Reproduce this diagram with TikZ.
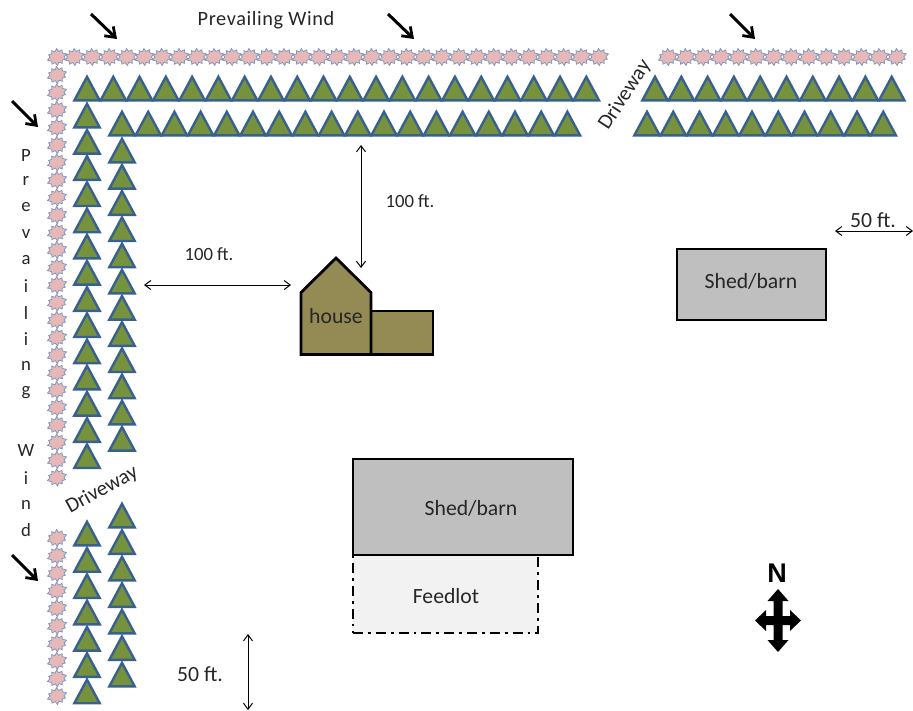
\documentclass[tikz,border=0pt]{standalone}
\usepackage{fontspec}
\setmainfont{Carlito}
\newfontfamily\northfont{Liberation Sans}
\usetikzlibrary{arrows.meta}
\definecolor{treefill}{HTML}{76923C}
\definecolor{treeline}{HTML}{386190}
\definecolor{burstfill}{HTML}{E6B8B7}
\definecolor{burstline}{HTML}{7A94BE}
\definecolor{housefill}{HTML}{948A54}
\definecolor{shedfill}{HTML}{BFBFBF}
\definecolor{lotfill}{HTML}{F2F2F2}
\definecolor{txt}{HTML}{262626}
\tikzset{
  x=1pt,y=-1pt,
  lab/.style={inner sep=0pt,text=txt,font=\fontsize{18.7}{20}\selectfont},
  biglab/.style={inner sep=0pt,text=txt,font=\fontsize{21.7}{24}\selectfont},
  drive/.style={inner sep=0pt,text=txt,font=\fontsize{21}{24}\selectfont},
  build/.style={draw=black,line width=2.8pt,inner sep=0pt},
  wind/.style={-{Straight Barb[length=9pt,width=13pt,line width=2.8pt]},line width=3pt,black},
  dim/.style={{Straight Barb[length=6pt,width=9pt]}-{Straight Barb[length=6pt,width=9pt]},line width=1pt,black},
  tree/.pic={\draw[fill=treefill,draw=treeline,line width=2.4pt,miter limit=10] (0,1.8) -- (12.7,25.4) -- (-12.7,25.4) -- cycle;},
  burst/.pic={\draw[fill=burstfill,draw=burstline,line width=.7pt,rotate=18]
    (0:10) -- (17:7.0) -- (32:8.7) -- (50:6.0) -- (68:8.3) -- (88:5.6) -- (105:8.5) -- (125:5.8) -- (143:8.8)
    -- (160:6.8) -- (180:10) -- (197:7.0) -- (212:8.7) -- (230:6.0) -- (248:8.3) -- (268:5.6) -- (285:8.5)
    -- (305:5.8) -- (323:8.8) -- (340:6.8) -- cycle;}
}
\begin{document}
\begin{tikzpicture}
\useasboundingbox (0,0) rectangle (913,710);
% wind-breaks: shrub bursts
\foreach \i in {0,...,31} \pic at ({57+\i*17.48},57) {burst};
\foreach \i in {0,...,13} \pic at ({668+\i*17.6},57) {burst};
\foreach \i in {0,...,23} \pic at (57,{75+\i*17.5}) {burst};
\foreach \i in {0,...,9} \pic at (57,{538+\i*17.55}) {burst};
% trees
\foreach \i in {0,...,19} \pic at ({87+\i*26.28},75) {tree};
\foreach \i in {0,...,17} \pic at ({122+\i*26.2},110) {tree};
\foreach \i in {0,...,9} \pic at ({655+\i*26.3},75) {tree};
\foreach \i in {0,...,9} \pic at ({647+\i*26.25},110) {tree};
\foreach \i in {0,...,13} \pic at (87,{102+\i*26.2}) {tree};
\foreach \i in {0,...,11} \pic at (122,{137+\i*26.2}) {tree};
\foreach \i in {0,...,6} \pic at (87,{520+\i*26.3}) {tree};
\foreach \i in {0,...,6} \pic at (122,{502+\i*26.5}) {tree};
% wind arrows
\coordinate (w1a) at (91,14); \coordinate (w1b) at (117,39);
\coordinate (w2a) at (388,14); \coordinate (w2b) at (414,39);
\coordinate (w3a) at (730,14); \coordinate (w3b) at (755,39);
\coordinate (w4a) at (12,101); \coordinate (w4b) at (38,127);
\coordinate (w5a) at (12,555); \coordinate (w5b) at (38,581);
\draw[wind] (w1a) -- (w1b);
\draw[wind] (w2a) -- (w2b);
\draw[wind] (w3a) -- (w3b);
\draw[wind] (w4a) -- (w4b);
\draw[wind] (w5a) -- (w5b);
% labels
\node[lab,font=\fontsize{20.3}{22}\selectfont] (pw) at (266,20) {\addfontfeatures{LetterSpace=3}Prevailing Wind};
\foreach \t/\y/\n in {P/155/a,r/181/b,e/207/c,v/234/d,a/260/e,i/286/f,l/313/g,i/339/h,n/366/i,g/393/j,W/450/k,i/478/l,n/505/m,d/530/n}
  \node[lab] (vw\n) at (26,\y) {\t};
\node[drive,rotate=57] (dr1) at (625,95) {Driveway};
\node[drive,rotate=29] (dr2) at (102,490) {Driveway};
% buildings
\node[build,fill=lotfill,dash pattern=on 10pt off 5pt on 2.8pt off 5pt,minimum width=185pt,minimum height=78pt] (lot) at (445.5,594) {};
\node[build,fill=shedfill,minimum width=220pt,minimum height=96pt] (shedb) at (463,507) {};
\node[build,fill=shedfill,minimum width=149pt,minimum height=71pt] (sheda) at (751.5,284.5) {};
\draw[build,fill=housefill,line join=miter] (371,311) rectangle (433,354.5);
\draw[build,fill=housefill,line join=miter] (301,292.5) -- (336,258) -- (371,292.5) -- (371,354.5) -- (301,354.5) -- cycle;
\node[biglab] (lotlab) at (446,596) {Feedlot};
\node[biglab] (shedblab) at (471,508) {Shed/barn};
\node[biglab] (shedalab) at (751,281) {Shed/barn};
\node[biglab] (house) at (336,316) {house};
% dimensions
\coordinate (d1a) at (361,145); \coordinate (d1b) at (361,268);
\coordinate (d2a) at (144,285); \coordinate (d2b) at (291,285);
\coordinate (d3a) at (835,231); \coordinate (d3b) at (913,231);
\coordinate (d4a) at (248,634); \coordinate (d4b) at (248,710);
\draw[dim] (d1a) -- (d1b);
\draw[dim] (d2a) -- (d2b);
\draw[dim] (d3a) -- (d3b);
\draw[dim] (d4a) -- (d4b);
\node[lab] (l1) at (410,201) {100 ft.};
\node[lab] (l2) at (209,254) {100 ft.};
\node[lab,font=\fontsize{21.7}{24}\selectfont] (l3) at (873,220) {50 ft.};
\node[lab,font=\fontsize{21.7}{24}\selectfont] (l4) at (200,674) {50 ft.};
% north
\node[inner sep=0pt,font=\northfont\bfseries\fontsize{27}{30}\selectfont] (north) at (777,573) {N};
\fill[black] (778,589) -- (788.5,601) -- (782.5,601) -- (782.5,616) -- (790,616) -- (790,610) -- (801,620.5)
  -- (790,631) -- (790,625) -- (782.5,625) -- (782.5,640) -- (788.5,640) -- (778,652) -- (767.5,640)
  -- (773.5,640) -- (773.5,625) -- (766,625) -- (766,631) -- (755,620.5) -- (766,610) -- (766,616)
  -- (773.5,616) -- (773.5,601) -- (767.5,601) -- cycle;
\end{tikzpicture}
\end{document}
